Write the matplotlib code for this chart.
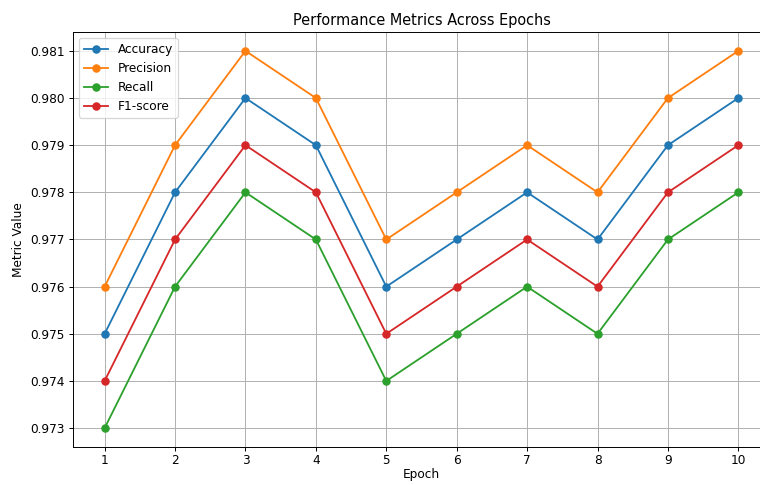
import numpy as np
from matplotlib import pyplot as plt

# data
epochs = [1, 2, 3, 4, 5, 6, 7, 8, 9, 10]
accuracy = [0.975, 0.978, 0.980, 0.979, 0.976, 0.977, 0.978, 0.977, 0.979, 0.980]
precision = [0.976, 0.979, 0.981, 0.980, 0.977, 0.978, 0.979, 0.978, 0.980, 0.981]
recall = [0.973, 0.976, 0.978, 0.977, 0.974, 0.975, 0.976, 0.975, 0.977, 0.978]
f1 = [0.974, 0.977, 0.979, 0.978, 0.975, 0.976, 0.977, 0.976, 0.978, 0.979]

dpi = 87
fig = plt.figure(figsize=(760 / dpi, 485 / dpi), dpi=dpi)
# the reference is cropped on the right, so the axes run past the edge
ax = fig.add_axes([0.096, 0.0784, 1.0132 - 0.096, 0.934 - 0.0784])

ax.plot(epochs, accuracy, marker='o', label='Accuracy')
ax.plot(epochs, precision, marker='o', label='Precision')
ax.plot(epochs, recall, marker='o', label='Recall')
ax.plot(epochs, f1, marker='o', label='F1-score')

ax.set_xticks(epochs)
ax.tick_params(axis='x', pad=2.5)
ax.set_xlabel('Epoch', labelpad=1)
ax.set_ylabel('Metric Value')
ax.set_title('Performance Metrics Across Epochs')
ax.legend(loc='upper left')
ax.grid(True)

fig.savefig('out.png', dpi=dpi)
